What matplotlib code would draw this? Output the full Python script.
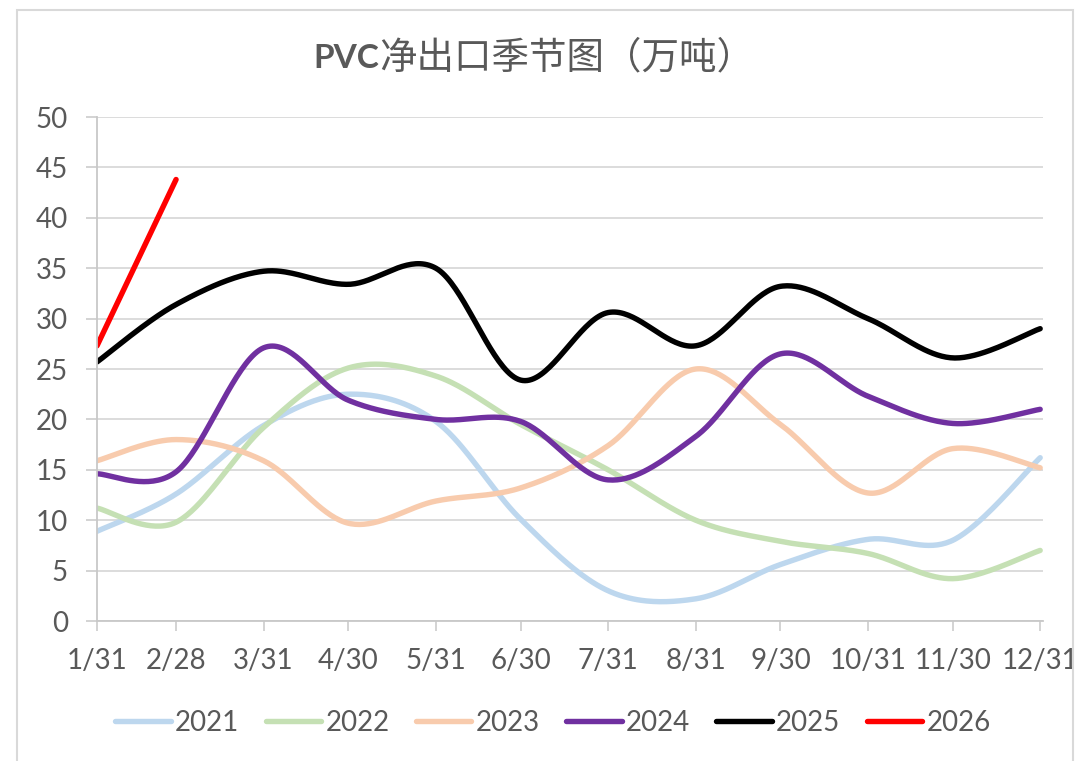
import matplotlib
matplotlib.use("Agg")
import matplotlib.pyplot as plt
from matplotlib.lines import Line2D
from matplotlib.patches import Rectangle
import numpy as np
import pandas as pd

# month-end dates (non-leap year so the axis reads 2/28)
month_ends = pd.date_range("2021-01-31", periods=12, freq="ME")
x_days = month_ends.dayofyear.to_numpy()
x_labels = [f"{d.month}/{d.day}" for d in month_ends]

years = ["2021", "2022", "2023", "2024", "2025", "2026"]
v2021 = [8.9, 12.6, 19.4, 22.5, 19.8, 10.1, 3.0, 2.2, 5.6, 8.1, 8.0, 16.2]
v2022 = [11.2, 9.8, 19.2, 25.1, 24.3, 19.5, 15.0, 10.0, 7.9, 6.7, 4.2, 7.0]
v2023 = [15.9, 18.0, 15.9, 9.7, 11.9, 13.2, 17.4, 25.0, 19.5, 12.7, 17.1, 15.2]
v2024 = [14.6, 14.8, 27.1, 21.9, 20.0, 19.8, 14.0, 18.3, 26.5, 22.3, 19.6, 21.0]
v2025 = [25.7, 31.4, 34.7, 33.4, 35.0, 23.9, 30.6, 27.3, 33.2, 30.0, 26.1, 29.0]
v2026 = [27.3, 43.8]
series = [v2021, v2022, v2023, v2024, v2025, v2026]
colors = ["#BDD7EE", "#C5E0B4", "#F8CBAD", "#7030A0", "#000000", "#FF0000"]

y_ticks = list(range(0, 51, 5))

TXT = "#595959"
GRID = "#D9D9D9"
AXIS = "#C8C8C8"


def smooth(xs, ys, n=40):
    """Excel-style smoothed line: Catmull-Rom segments as cubic Beziers."""
    p = np.column_stack([xs, ys]).astype(float)
    if len(p) < 3:
        return p[:, 0], p[:, 1]
    ext = np.vstack([p[0], p, p[-1]])
    t = np.linspace(0, 1, n)[:, None]
    out = []
    for i in range(1, len(ext) - 2):
        p0, p1, p2, p3 = ext[i - 1], ext[i], ext[i + 1], ext[i + 2]
        c1 = p1 + (p2 - p0) / 6
        c2 = p2 - (p3 - p1) / 6
        seg = ((1 - t) ** 3) * p1 + 3 * ((1 - t) ** 2) * t * c1 + 3 * (1 - t) * t ** 2 * c2 + t ** 3 * p2
        out.append(seg if i == 1 else seg[1:])
    out = np.vstack(out)
    return out[:, 0], out[:, 1]


fig = plt.figure(figsize=(10.77, 7.61), dpi=100)
fig.patch.set_facecolor("white")

W, H = 1077, 761
ax = fig.add_axes([97 / W, 1 - 621 / H, (1043 - 97) / W, (621 - 117) / H])

for vals, col in zip(series, colors):
    xs, ys = smooth(x_days[: len(vals)], vals)
    ax.plot(xs, ys, color=col, lw=3.9, solid_capstyle="round", solid_joinstyle="round")

ax.set_xlim(x_days[0], x_days[-1] + 1)
ax.set_ylim(0, 50)
ax.set_yticks(y_ticks)
ax.set_xticks(x_days)
ax.set_xticklabels(x_labels)

ax.grid(axis="y", color=GRID, lw=1.3)
ax.set_axisbelow(True)
for side in ["top", "right"]:
    ax.spines[side].set_visible(False)
for side in ["left", "bottom"]:
    ax.spines[side].set_color(AXIS)
    ax.spines[side].set_linewidth(1.3)

ax.tick_params(axis="x", length=7.5, width=1.1, color=AXIS, pad=12, labelsize=20, labelcolor=TXT)
ax.tick_params(axis="y", length=8, width=1.1, color=AXIS, pad=13, labelsize=20, labelcolor=TXT)
for lab in ax.get_xticklabels() + ax.get_yticklabels():
    lab.set_fontfamily("Lato")

# outer chart border
border = Rectangle((17 / W, -0.05), (1073 - 17) / W, 1.05 - 10 / H,
                   transform=fig.transFigure, fill=False, edgecolor=GRID, lw=1.5)
fig.patches.append(border)
last = ax.xaxis.get_major_ticks()[-1].label1
last.set_clip_path(border)
last.set_clip_on(True)

# title: bold "PVC" followed by regular Chinese text
renderer = fig.canvas.get_renderer()
ty = 1 - 68 / H
t1 = fig.text(0, ty, "PVC", fontsize=24, fontweight="bold", family="Lato", color=TXT, va="baseline")
t2 = fig.text(0, ty, "净出口季节图（万吨）", fontsize=27, family="Noto Sans CJK SC", color=TXT, va="baseline")
w1 = t1.get_window_extent(renderer).width
w2 = t2.get_window_extent(renderer).width
x0 = 534 - (w1 + w2) / 2
t1.set_x(x0 / W)
t2.set_x((x0 + w1) / W)

handles = [Line2D([], [], color=c, lw=3.9, solid_capstyle="round") for c in colors]
fig.legend(handles, years, loc="center", bbox_to_anchor=(553 / W, 1 - 723 / H), ncol=6,
           frameon=False, handlelength=2.0, handletextpad=0.15, columnspacing=0.95,
           prop={"family": "Lato", "size": 20}, labelcolor=TXT)

fig.savefig("out.png", dpi=100, facecolor="white")
